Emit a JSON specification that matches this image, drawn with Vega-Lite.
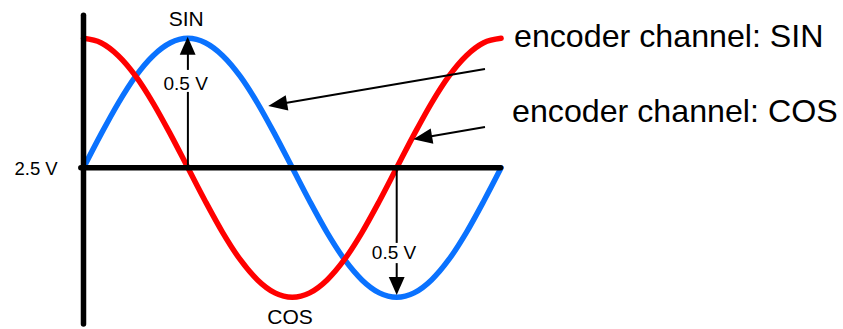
{
  "$schema": "https://vega.github.io/schema/vega-lite/v6.json",
  "width": 843,
  "height": 329,
  "autosize": {"type": "fit", "contains": "padding"},
  "padding": 0,
  "background": "white",
  "config": {"view": {"stroke": null}},
  "datasets": {
    "waves": [
      {"channel": "SIN", "phase": 0, "volts": 2.5},
      {"channel": "SIN", "phase": 15, "volts": 2.629},
      {"channel": "SIN", "phase": 30, "volts": 2.75},
      {"channel": "SIN", "phase": 45, "volts": 2.854},
      {"channel": "SIN", "phase": 60, "volts": 2.933},
      {"channel": "SIN", "phase": 75, "volts": 2.983},
      {"channel": "SIN", "phase": 90, "volts": 3.0},
      {"channel": "SIN", "phase": 105, "volts": 2.983},
      {"channel": "SIN", "phase": 120, "volts": 2.933},
      {"channel": "SIN", "phase": 135, "volts": 2.854},
      {"channel": "SIN", "phase": 150, "volts": 2.75},
      {"channel": "SIN", "phase": 165, "volts": 2.629},
      {"channel": "SIN", "phase": 180, "volts": 2.5},
      {"channel": "SIN", "phase": 195, "volts": 2.371},
      {"channel": "SIN", "phase": 210, "volts": 2.25},
      {"channel": "SIN", "phase": 225, "volts": 2.146},
      {"channel": "SIN", "phase": 240, "volts": 2.067},
      {"channel": "SIN", "phase": 255, "volts": 2.017},
      {"channel": "SIN", "phase": 270, "volts": 2.0},
      {"channel": "SIN", "phase": 285, "volts": 2.017},
      {"channel": "SIN", "phase": 300, "volts": 2.067},
      {"channel": "SIN", "phase": 315, "volts": 2.146},
      {"channel": "SIN", "phase": 330, "volts": 2.25},
      {"channel": "SIN", "phase": 345, "volts": 2.371},
      {"channel": "SIN", "phase": 360, "volts": 2.5},
      {"channel": "COS", "phase": 0, "volts": 3.0},
      {"channel": "COS", "phase": 15, "volts": 2.983},
      {"channel": "COS", "phase": 30, "volts": 2.933},
      {"channel": "COS", "phase": 45, "volts": 2.854},
      {"channel": "COS", "phase": 60, "volts": 2.75},
      {"channel": "COS", "phase": 75, "volts": 2.629},
      {"channel": "COS", "phase": 90, "volts": 2.5},
      {"channel": "COS", "phase": 105, "volts": 2.371},
      {"channel": "COS", "phase": 120, "volts": 2.25},
      {"channel": "COS", "phase": 135, "volts": 2.146},
      {"channel": "COS", "phase": 150, "volts": 2.067},
      {"channel": "COS", "phase": 165, "volts": 2.017},
      {"channel": "COS", "phase": 180, "volts": 2.0},
      {"channel": "COS", "phase": 195, "volts": 2.017},
      {"channel": "COS", "phase": 210, "volts": 2.067},
      {"channel": "COS", "phase": 225, "volts": 2.146},
      {"channel": "COS", "phase": 240, "volts": 2.25},
      {"channel": "COS", "phase": 255, "volts": 2.371},
      {"channel": "COS", "phase": 270, "volts": 2.5},
      {"channel": "COS", "phase": 285, "volts": 2.629},
      {"channel": "COS", "phase": 300, "volts": 2.75},
      {"channel": "COS", "phase": 315, "volts": 2.854},
      {"channel": "COS", "phase": 330, "volts": 2.933},
      {"channel": "COS", "phase": 345, "volts": 2.983},
      {"channel": "COS", "phase": 360, "volts": 3.0}
    ],
    "axes": [
      {"name": "voltage axis", "phase": 0, "volts": 3.089, "phase2": 0, "volts2": 1.897},
      {"name": "2.5 V line", "phase": -2.3, "volts": 2.5, "phase2": 359.5, "volts2": 2.5}
    ],
    "arrows": [
      {"name": "SIN amplitude", "phase": 90, "volts": 2.5, "phase2": 90, "volts2": 2.793},
      {"name": "SIN amplitude", "phase": 90, "volts": 2.878, "phase2": 90, "volts2": 2.955},
      {"name": "COS amplitude", "phase": 270, "volts": 2.5, "phase2": 270, "volts2": 2.21},
      {"name": "COS amplitude", "phase": 270, "volts": 2.132, "phase2": 270, "volts2": 2.047},
      {"name": "SIN pointer", "phase": 346.1, "volts": 2.8815, "phase2": 167.8, "volts2": 2.7452},
      {"name": "COS pointer", "phase": 346.1, "volts": 2.6575, "phase2": 291.1, "volts2": 2.6151}
    ],
    "heads": [
      {"name": "up", "phase": 89.8, "volts": 3.006},
      {"name": "down", "phase": 270, "volts": 2.009},
      {"name": "SIN pointer", "phase": 159.3, "volts": 2.7386},
      {"name": "COS pointer", "phase": 284.3, "volts": 2.61}
    ],
    "labels": [
      {"role": "title", "label": "SIN", "phase": 88.5, "volts": 3.0486},
      {"role": "title", "label": "COS", "phase": 178, "volts": 1.8969},
      {"role": "amp", "label": "0.5 V", "phase": 88.1, "volts": 2.8023},
      {"role": "amp", "label": "0.5 V", "phase": 267.7, "volts": 2.1479},
      {"role": "mid", "label": "2.5 V", "phase": -40.9, "volts": 2.4741},
      {"role": "legend", "label": "encoder channel: SIN", "phase": 371.1, "volts": 2.9676},
      {"role": "legend", "label": "encoder channel: COS", "phase": 369.4, "volts": 2.678}
    ]
  },
  "layer": [
    {
      "data": {"name": "waves"},
      "transform": [{"filter": "datum.channel === 'SIN'"}],
      "mark": {"type": "line", "interpolate": "monotone", "strokeWidth": 5.5, "strokeCap": "round", "color": "#0A72FF"},
      "encoding": {
        "x": {"field": "phase", "type": "quantitative", "scale": {"domain": [-71.98, 654.74], "nice": false, "zero": false}, "axis": null},
        "y": {"field": "volts", "type": "quantitative", "scale": {"domain": [1.8776, 3.1479], "nice": false, "zero": false}, "axis": null}
      }
    },
    {
      "data": {"name": "waves"},
      "transform": [{"filter": "datum.channel === 'COS'"}],
      "mark": {"type": "line", "interpolate": "monotone", "strokeWidth": 5.5, "strokeCap": "round", "color": "#FF0000"},
      "encoding": {
        "x": {"field": "phase", "type": "quantitative", "scale": {"domain": [-71.98, 654.74], "nice": false, "zero": false}, "axis": null},
        "y": {"field": "volts", "type": "quantitative", "scale": {"domain": [1.8776, 3.1479], "nice": false, "zero": false}, "axis": null}
      }
    },
    {
      "data": {"name": "axes"},
      "mark": {"type": "rule", "strokeWidth": 5.5, "strokeCap": "round", "color": "#000000"},
      "encoding": {
        "x": {"field": "phase", "type": "quantitative", "scale": {"domain": [-71.98, 654.74], "nice": false, "zero": false}, "axis": null},
        "y": {"field": "volts", "type": "quantitative", "scale": {"domain": [1.8776, 3.1479], "nice": false, "zero": false}, "axis": null},
        "x2": {"field": "phase2"},
        "y2": {"field": "volts2"}
      }
    },
    {
      "data": {"name": "arrows"},
      "mark": {"type": "rule", "strokeWidth": 2, "color": "#000000"},
      "encoding": {
        "x": {"field": "phase", "type": "quantitative", "scale": {"domain": [-71.98, 654.74], "nice": false, "zero": false}, "axis": null},
        "y": {"field": "volts", "type": "quantitative", "scale": {"domain": [1.8776, 3.1479], "nice": false, "zero": false}, "axis": null},
        "x2": {"field": "phase2"},
        "y2": {"field": "volts2"}
      }
    },
    {
      "data": {"name": "heads"},
      "transform": [{"filter": "datum.name === 'up'"}],
      "mark": {"type": "point", "shape": "M0,0L-0.44,1L0.44,1Z", "size": 1296, "filled": true, "opacity": 1, "color": "#000000", "strokeWidth": 0, "angle": 0},
      "encoding": {
        "x": {"field": "phase", "type": "quantitative", "scale": {"domain": [-71.98, 654.74], "nice": false, "zero": false}, "axis": null},
        "y": {"field": "volts", "type": "quantitative", "scale": {"domain": [1.8776, 3.1479], "nice": false, "zero": false}, "axis": null}
      }
    },
    {
      "data": {"name": "heads"},
      "transform": [{"filter": "datum.name === 'down'"}],
      "mark": {"type": "point", "shape": "M0,0L-0.44,1L0.44,1Z", "size": 1296, "filled": true, "opacity": 1, "color": "#000000", "strokeWidth": 0, "angle": 180},
      "encoding": {
        "x": {"field": "phase", "type": "quantitative", "scale": {"domain": [-71.98, 654.74], "nice": false, "zero": false}, "axis": null},
        "y": {"field": "volts", "type": "quantitative", "scale": {"domain": [1.8776, 3.1479], "nice": false, "zero": false}, "axis": null}
      }
    },
    {
      "data": {"name": "heads"},
      "transform": [{"filter": "datum.name === 'SIN pointer' || datum.name === 'COS pointer'"}],
      "mark": {"type": "point", "shape": "M0,0L-0.41,1L0.41,1Z", "size": 1444, "filled": true, "opacity": 1, "color": "#000000", "strokeWidth": 0, "angle": 260.3},
      "encoding": {
        "x": {"field": "phase", "type": "quantitative", "scale": {"domain": [-71.98, 654.74], "nice": false, "zero": false}, "axis": null},
        "y": {"field": "volts", "type": "quantitative", "scale": {"domain": [1.8776, 3.1479], "nice": false, "zero": false}, "axis": null}
      }
    },
    {
      "data": {"name": "labels"},
      "transform": [{"filter": "datum.role === 'title'"}],
      "mark": {"type": "text", "font": "Liberation Sans", "fontSize": 21, "align": "center", "baseline": "alphabetic", "color": "#000000"},
      "encoding": {
        "x": {"field": "phase", "type": "quantitative", "scale": {"domain": [-71.98, 654.74], "nice": false, "zero": false}, "axis": null},
        "y": {"field": "volts", "type": "quantitative", "scale": {"domain": [1.8776, 3.1479], "nice": false, "zero": false}, "axis": null},
        "text": {"field": "label"}
      }
    },
    {
      "data": {"name": "labels"},
      "transform": [{"filter": "datum.role === 'amp'"}],
      "mark": {"type": "text", "font": "Liberation Sans", "fontSize": 19, "align": "center", "baseline": "alphabetic", "color": "#000000"},
      "encoding": {
        "x": {"field": "phase", "type": "quantitative", "scale": {"domain": [-71.98, 654.74], "nice": false, "zero": false}, "axis": null},
        "y": {"field": "volts", "type": "quantitative", "scale": {"domain": [1.8776, 3.1479], "nice": false, "zero": false}, "axis": null},
        "text": {"field": "label"}
      }
    },
    {
      "data": {"name": "labels"},
      "transform": [{"filter": "datum.role === 'mid'"}],
      "mark": {"type": "text", "font": "Liberation Sans", "fontSize": 18.5, "align": "center", "baseline": "alphabetic", "color": "#000000"},
      "encoding": {
        "x": {"field": "phase", "type": "quantitative", "scale": {"domain": [-71.98, 654.74], "nice": false, "zero": false}, "axis": null},
        "y": {"field": "volts", "type": "quantitative", "scale": {"domain": [1.8776, 3.1479], "nice": false, "zero": false}, "axis": null},
        "text": {"field": "label"}
      }
    },
    {
      "data": {"name": "labels"},
      "transform": [{"filter": "datum.role === 'legend'"}],
      "mark": {"type": "text", "font": "Liberation Sans", "fontSize": 32.2, "align": "left", "baseline": "alphabetic", "color": "#000000"},
      "encoding": {
        "x": {"field": "phase", "type": "quantitative", "scale": {"domain": [-71.98, 654.74], "nice": false, "zero": false}, "axis": null},
        "y": {"field": "volts", "type": "quantitative", "scale": {"domain": [1.8776, 3.1479], "nice": false, "zero": false}, "axis": null},
        "text": {"field": "label"}
      }
    }
  ]
}
